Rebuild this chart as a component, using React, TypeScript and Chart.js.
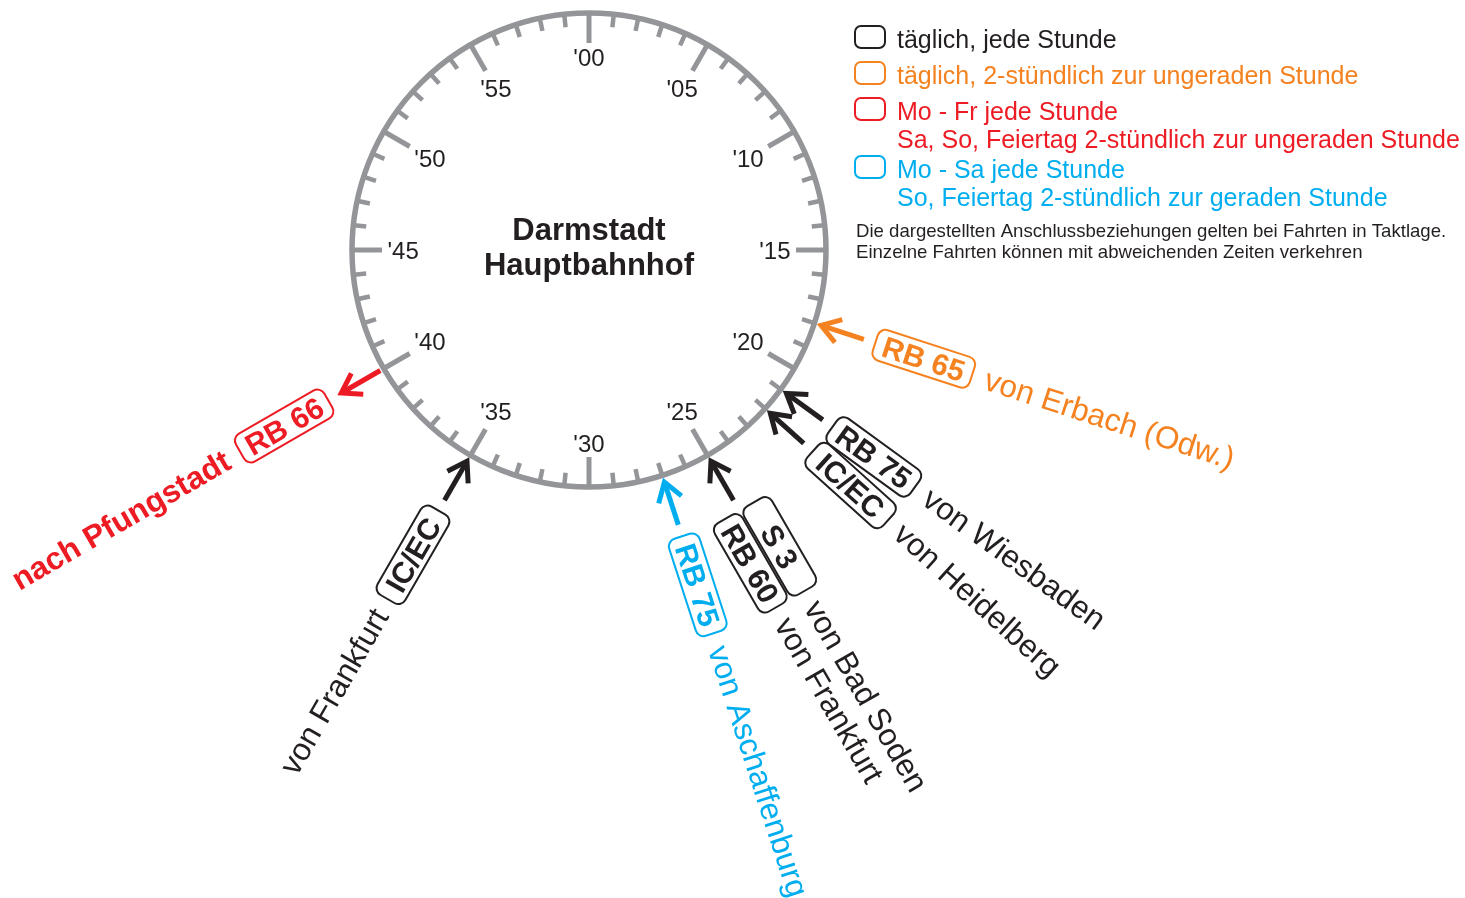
import React, { useEffect, useRef } from "react";
import { Chart, registerables } from "chart.js";

Chart.register(...registerables);

// ---------- colours ----------
const INK = "#231F20";
const GREY = "#939598";
const ORANGE = "#F58220";
const RED = "#ED1C24";
const BLUE = "#00AEEF";
const FONT = '"Liberation Sans", Arial, Helvetica, sans-serif';

// ---------- data ----------
const stationName = ["Darmstadt", "Hauptbahnhof"];
const minutesPerHour = 60;
const tickLabels = ["'00", "'05", "'10", "'15", "'20", "'25", "'30", "'35", "'40", "'45", "'50", "'55"];

const trainLines = ["RB 65", "RB 75", "IC/EC", "S 3", "RB 60", "RB 75", "IC/EC", "RB 66"];
const trainMinutes = [18, 21, 22, 25, 25, 27, 35, 40];
const trainPlaces = [
  "von Erbach (Odw.)",
  "von Wiesbaden",
  "von Heidelberg",
  "von Bad Soden",
  "von Frankfurt",
  "von Aschaffenburg",
  "von Frankfurt",
  "nach Pfungstadt",
];
const trainColors = [ORANGE, INK, INK, INK, INK, BLUE, INK, RED];
const trainDeparts = [false, false, false, false, false, false, false, true];

const legendColors = [INK, ORANGE, RED, BLUE];
const legendTexts = [
  ["täglich, jede Stunde"],
  ["täglich, 2-stündlich zur ungeraden Stunde"],
  ["Mo - Fr jede Stunde", "Sa, So, Feiertag 2-stündlich zur ungeraden Stunde"],
  ["Mo - Sa jede Stunde", "So, Feiertag 2-stündlich zur geraden Stunde"],
];
const noteLines = [
  "Die dargestellten Anschlussbeziehungen gelten bei Fahrten in Taktlage.",
  "Einzelne Fahrten können mit abweichenden Zeiten verkehren",
];

// ---------- layout ----------
const W = 1465;
const H = 898;
const CX = 589;
const CY = 250;
const RIM = 237;

function polar(minute: number, r: number) {
  const t = (minute / minutesPerHour) * Math.PI * 2;
  return { x: CX + r * Math.sin(t), y: CY - r * Math.cos(t) };
}

function roundRect(ctx: CanvasRenderingContext2D, x: number, y: number, w: number, h: number, r: number) {
  ctx.beginPath();
  ctx.moveTo(x + r, y);
  ctx.lineTo(x + w - r, y);
  ctx.arcTo(x + w, y, x + w, y + r, r);
  ctx.lineTo(x + w, y + h - r);
  ctx.arcTo(x + w, y + h, x + w - r, y + h, r);
  ctx.lineTo(x + r, y + h);
  ctx.arcTo(x, y + h, x, y + h - r, r);
  ctx.lineTo(x, y + r);
  ctx.arcTo(x, y, x + r, y, r);
  ctx.closePath();
}

const arrowTrains = trainMinutes
  .map((_, i) => i)
  .filter((i) => trainMinutes.indexOf(trainMinutes[i]) === i);

function groupOffset(i: number) {
  const same = trainMinutes.map((m, k) => k).filter((k) => trainMinutes[k] === trainMinutes[i]);
  if (same.length < 2) return 0;
  const pos = same.indexOf(i);
  return (pos - (same.length - 1) / 2) * 34;
}

const clockPlugin = {
  id: "clockPlugin",
  beforeDatasetsDraw(chart: any) {
    const ctx: CanvasRenderingContext2D = chart.ctx;
    const xs = chart.scales.x;
    const ys = chart.scales.y;
    const P = (p: { x: number; y: number }) => ({ x: xs.getPixelForValue(p.x), y: ys.getPixelForValue(p.y) });
    const c = P({ x: CX, y: CY });
    const rpx = xs.getPixelForValue(CX + RIM) - c.x;
    ctx.save();
    // rim
    ctx.strokeStyle = GREY;
    ctx.lineWidth = 5.5;
    ctx.beginPath();
    ctx.arc(c.x, c.y, rpx, 0, Math.PI * 2);
    ctx.stroke();
    // ticks
    for (let m = 0; m < minutesPerHour; m++) {
      const major = m % 5 === 0;
      const a = P(polar(m, RIM - 1));
      const b = P(polar(m, major ? 207 : 224));
      ctx.lineWidth = major ? 5 : 4.5;
      ctx.beginPath();
      ctx.moveTo(a.x, a.y);
      ctx.lineTo(b.x, b.y);
      ctx.stroke();
    }
    // tick labels
    ctx.fillStyle = INK;
    ctx.font = `24px ${FONT}`;
    ctx.textAlign = "center";
    ctx.textBaseline = "alphabetic";
    tickLabels.forEach((lab, k) => {
      const m = k * 5;
      const t = (m / minutesPerHour) * Math.PI * 2;
      const hw = ctx.measureText(lab).width / 2;
      const hh = 8.6;
      const r = 201.5 - (hw * Math.abs(Math.sin(t)) + hh * Math.abs(Math.cos(t)));
      const p = P(polar(m, r));
      ctx.fillText(lab, p.x, p.y + hh);
    });
    // title
    ctx.font = `bold 31px ${FONT}`;
    ctx.fillText(stationName[0], c.x, ys.getPixelForValue(240));
    ctx.fillText(stationName[1], c.x, ys.getPixelForValue(275));

    // legend
    const baselines = [[48], [84], [120, 148], [178, 206]];
    ctx.textAlign = "left";
    legendTexts.forEach((lines, k) => {
      ctx.strokeStyle = legendColors[k];
      ctx.fillStyle = legendColors[k];
      ctx.lineWidth = 2;
      const by = ys.getPixelForValue(baselines[k][0] - 11);
      roundRect(ctx, xs.getPixelForValue(855), by - 11, 30, 22, 6);
      ctx.stroke();
      ctx.font = `25px ${FONT}`;
      lines.forEach((ln, j) => {
        ctx.fillText(ln, xs.getPixelForValue(897), ys.getPixelForValue(baselines[k][j]));
      });
    });
    ctx.fillStyle = INK;
    ctx.font = `18.6px ${FONT}`;
    noteLines.forEach((ln, j) => {
      ctx.fillText(ln, xs.getPixelForValue(856), ys.getPixelForValue(237 + j * 21));
    });
    ctx.restore();
  },
  afterDatasetsDraw(chart: any) {
    const ctx: CanvasRenderingContext2D = chart.ctx;
    const xs = chart.scales.x;
    const ys = chart.scales.y;
    const P = (p: { x: number; y: number }) => ({ x: xs.getPixelForValue(p.x), y: ys.getPixelForValue(p.y) });
    ctx.save();
    // arrow heads
    chart.data.datasets.forEach((ds: any) => {
      const tail = P(ds.data[0]);
      const tip = P(ds.data[1]);
      let dx = tip.x - tail.x;
      let dy = tip.y - tail.y;
      const len = Math.hypot(dx, dy);
      dx /= len;
      dy /= len;
      const L = 22;
      const ang = (33 * Math.PI) / 180;
      const arm = (s: number) => {
        const ca = Math.cos(s * ang);
        const sa = Math.sin(s * ang);
        const bx = -dx * ca + dy * sa;
        const by = -dx * sa - dy * ca;
        return { x: tip.x + bx * L, y: tip.y + by * L };
      };
      const a1 = arm(1);
      const a2 = arm(-1);
      ctx.strokeStyle = ds.borderColor;
      ctx.lineWidth = 5;
      ctx.lineJoin = "miter";
      ctx.lineCap = "butt";
      ctx.beginPath();
      ctx.moveTo(a1.x, a1.y);
      ctx.lineTo(tip.x, tip.y);
      ctx.lineTo(a2.x, a2.y);
      ctx.stroke();
    });

    // boxes and destinations
    trainLines.forEach((line, i) => {
      const m = trainMinutes[i];
      const t = (m / minutesPerHour) * Math.PI * 2;
      const dir = { x: Math.sin(t), y: -Math.cos(t) };
      const perp = { x: -dir.y, y: dir.x };
      const phi = Math.atan2(dir.y, dir.x);
      const right = dir.x >= 0;
      const rot = right ? phi : phi + Math.PI;
      const off = groupOffset(i);
      const cb = polar(m, 352);
      const boxC = P({ x: cb.x + perp.x * off, y: cb.y + perp.y * off });
      ctx.save();
      ctx.translate(boxC.x, boxC.y);
      ctx.rotate(rot);
      roundRect(ctx, -51, -16, 102, 32, 8);
      ctx.fillStyle = "#ffffff";
      ctx.fill();
      ctx.strokeStyle = trainColors[i];
      ctx.lineWidth = 2;
      ctx.stroke();
      ctx.fillStyle = trainColors[i];
      ctx.font = `bold 30px ${FONT}`;
      ctx.textAlign = "center";
      ctx.textBaseline = "alphabetic";
      ctx.fillText(line, 0, 10.7);
      ctx.restore();

      const ct = polar(m, 417);
      const tp = P({ x: ct.x + perp.x * off, y: ct.y + perp.y * off });
      ctx.save();
      ctx.translate(tp.x, tp.y);
      ctx.rotate(rot);
      ctx.fillStyle = trainColors[i];
      ctx.font = `${trainDeparts[i] ? "bold " : ""}31.5px ${FONT}`;
      ctx.textAlign = right ? "left" : "right";
      ctx.textBaseline = "alphabetic";
      ctx.fillText(trainPlaces[i], 0, 10.5);
      ctx.restore();
    });
    ctx.restore();
  },
};

export default function App() {
  const ref = useRef<HTMLCanvasElement | null>(null);
  useEffect(() => {
    if (!ref.current) return;
    const datasets = arrowTrains.map((i) => {
      const m = trainMinutes[i];
      const pts = trainDeparts[i] ? [polar(m, 241), polar(m, 286)] : [polar(m, 289), polar(m, 244)];
      return {
        label: trainLines[i],
        data: pts,
        showLine: true,
        borderColor: trainColors[i],
        backgroundColor: trainColors[i],
        borderWidth: 5,
        borderCapStyle: "butt",
        pointRadius: 0,
        pointHoverRadius: 0,
      };
    });
    const chart = new Chart(ref.current, {
      type: "scatter",
      data: { datasets: datasets as any },
      options: {
        animation: false,
        responsive: false,
        maintainAspectRatio: false,
        events: [],
        layout: { padding: 0 },
        scales: {
          x: { type: "linear", min: 0, max: W, display: false },
          y: { type: "linear", min: 0, max: H, reverse: true, display: false },
        },
        plugins: {
          legend: { display: false },
          tooltip: { enabled: false },
        },
      },
      plugins: [clockPlugin],
    });
    return () => chart.destroy();
  }, []);
  return (
    <div style={{ position: "absolute", left: 0, top: 0, width: W, height: H, background: "#fff" }}>
      <canvas ref={ref} width={W} height={H} style={{ display: "block" }} />
    </div>
  );
}
